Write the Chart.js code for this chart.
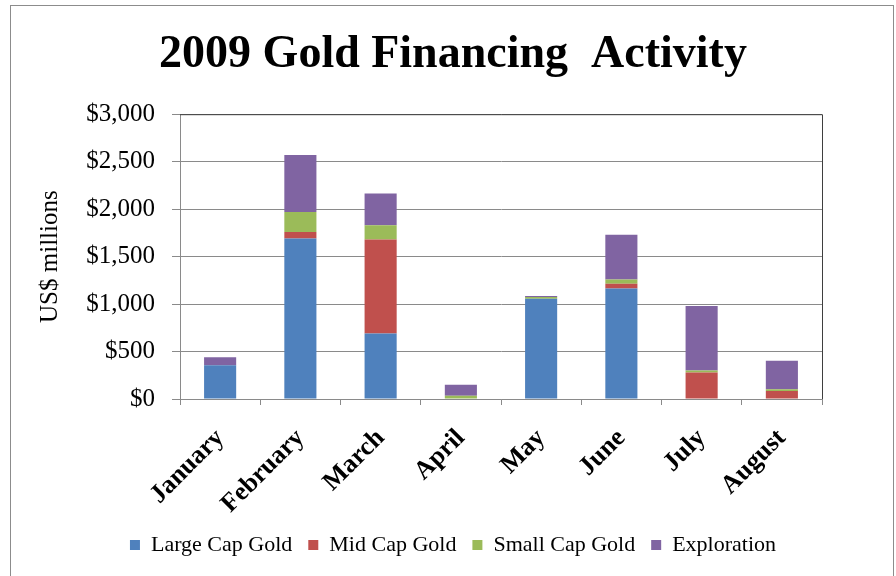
<!DOCTYPE html>
<html>
<head>
<meta charset="utf-8">
<title>2009 Gold Financing Activity</title>
<script src="https://cdn.jsdelivr.net/npm/chart.js@4.4.0/dist/chart.umd.min.js"></script>
<style>
  html, body { margin: 0; padding: 0; background: #ffffff; }
  #wrap { position: relative; width: 896px; height: 576px; overflow: hidden; }
  /* outer frame of the chart object */
  #frame { position: absolute; left: 10px; top: 5px; width: 882px; height: 620px; border: 1px solid #8c8c8c; }
  #goldChart { position: absolute; left: 0; top: 0; }
</style>
</head>
<body>
<div id="wrap">
  <div id="frame"></div>
  <canvas id="goldChart" width="896" height="576"></canvas>
</div>
<script>
// Monthly financing raised, US$ millions
const months = ["January", "February", "March", "April", "May", "June", "July", "August"];
const largeCapGold = [355, 1690, 690, 0, 1055, 1165, 0, 0];
const midCapGold = [0, 70, 990, 0, 0, 50, 278, 84];
const smallCapGold = [0, 210, 150, 35, 20, 45, 22, 18];
const exploration = [85, 600, 335, 115, 10, 470, 680, 302];

const yTicks = [0, 500, 1000, 1500, 2000, 2500, 3000];

const serif = "'Liberation Serif', 'Times New Roman', serif";
const gridGrey = "#8a8a8a";

// top and right edges of the plot area
const plotFrame = {
    id: "plotFrame",
    afterDraw(chart) {
        const { ctx, chartArea } = chart;
        ctx.save();
        ctx.strokeStyle = "#3f3f3f";
        ctx.lineWidth = 1;
        ctx.beginPath();
        ctx.moveTo(chartArea.left, chartArea.top + 0.5);
        ctx.lineTo(chartArea.right + 0.5, chartArea.top + 0.5);
        ctx.lineTo(chartArea.right + 0.5, chartArea.bottom);
        ctx.stroke();
        ctx.restore();
    }
};

function makeSeries(label, values, color) {
    return {
        label: label,
        data: values,
        backgroundColor: color,
        borderWidth: 0,
        categoryPercentage: 0.8,
        barPercentage: 0.5
    };
}

const ctx = document.getElementById("goldChart").getContext("2d");

new Chart(ctx, {
    type: "bar",
    data: {
        labels: months,
        datasets: [
            makeSeries("Large Cap Gold", largeCapGold, "#4F81BD"),
            makeSeries("Mid Cap Gold", midCapGold, "#C0504D"),
            makeSeries("Small Cap Gold", smallCapGold, "#9BBB59"),
            makeSeries("Exploration", exploration, "#8064A2")
        ]
    },
    options: {
        responsive: false,
        animation: false,
        devicePixelRatio: 1,
        layout: { padding: { top: 5, left: 10, right: 0, bottom: 10 } },
        plugins: {
            title: {
                display: true,
                text: "2009 Gold Financing  Activity",
                color: "#000000",
                font: { family: serif, size: 46, weight: "bold" },
                padding: { top: 23, bottom: 31 }
            },
            legend: {
                position: "bottom",
                labels: {
                    color: "#000000",
                    font: { family: serif, size: 22 },
                    boxWidth: 10,
                    boxHeight: 10,
                    padding: 16
                }
            },
            tooltip: { enabled: false }
        },
        scales: {
            x: {
                stacked: true,
                grid: {
                    display: true,
                    drawOnChartArea: false,
                    drawTicks: true,
                    tickLength: 6,
                    color: gridGrey,
                    offset: true
                },
                border: { display: true, color: gridGrey },
                ticks: {
                    color: "#000000",
                    font: { family: serif, size: 26, weight: "bold" },
                    minRotation: 45,
                    maxRotation: 45,
                    padding: 18
                },
                afterFit(scale) { scale.height = 119; }
            },
            y: {
                stacked: true,
                min: 0,
                max: 3000,
                afterBuildTicks(scale) {
                    scale.ticks = yTicks.map(v => ({ value: v }));
                },
                grid: {
                    color: gridGrey,
                    tickLength: 8,
                    drawTicks: true
                },
                border: { display: true, color: gridGrey },
                ticks: {
                    color: "#000000",
                    font: { family: serif, size: 25 },
                    padding: 17,
                    callback: v => "$" + v.toLocaleString("en-US")
                },
                title: {
                    display: true,
                    text: "US$ millions",
                    color: "#000000",
                    font: { family: serif, size: 25 },
                    padding: { top: 25, bottom: 0 }
                },
                afterFit(scale) { scale.width = 170; }
            },
            // empty axis that reserves the margin right of the plot
            spacer: {
                type: "linear",
                position: "right",
                display: true,
                grid: { display: false },
                border: { display: false },
                ticks: { display: false },
                afterFit(scale) { scale.width = 74; }
            }
        }
    },
    plugins: [plotFrame]
});
</script>
</body>
</html>
